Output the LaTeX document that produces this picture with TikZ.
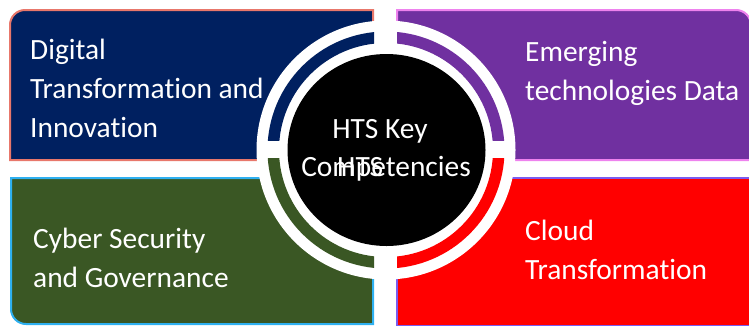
\documentclass[tikz,border=0pt]{standalone}
\usepackage{fontspec}
\setmainfont[Ligatures=NoCommon]{Carlito}
\definecolor{navyfill}{HTML}{002060}
\definecolor{navyedge}{HTML}{E8776B}
\definecolor{greenfill}{HTML}{3A5724}
\definecolor{greenedge}{HTML}{2EB0F0}
\definecolor{purplefill}{HTML}{7030A0}
\definecolor{purpleedge}{HTML}{EE82EE}
\definecolor{redfill}{HTML}{FF0000}
\definecolor{rededge}{HTML}{7B5CF0}
\tikzset{
  boxtext/.style={text=white, font=\fontsize{29.4pt}{39pt}\selectfont, align=left, anchor=base west, inner sep=0pt},
  centertext/.style={text=white, font=\fontsize{29.4pt}{39pt}\selectfont, anchor=base, inner sep=0pt},
  panel/.style={line width=2pt}
}
\begin{document}
\begin{tikzpicture}[x=1pt,y=-1pt]
\useasboundingbox (0,0) rectangle (749,325);
% panels
\filldraw[panel, fill=navyfill, draw=navyedge]
  (373,160) -- (10,160) [rounded corners=15pt] -- (10,10) [sharp corners] -- (373,10) -- cycle;
\filldraw[panel, fill=greenfill, draw=greenedge]
  (373,178) -- (11,178) [rounded corners=15pt] -- (11,324) [sharp corners] -- (373,324) -- cycle;
\filldraw[panel, fill=purplefill, draw=purpleedge]
  (397,160) -- (397,10) [rounded corners=15pt] -- (751,10) [sharp corners] -- (751,160) -- cycle;
\filldraw[panel, fill=redfill, draw=rededge]
  (397,326) -- (397,178) -- (751,178) -- (751,326) -- cycle;
% white disc
\fill[white] (386,150) circle (129.5pt);
% coloured quarter rings
\begin{scope}
  \clip (0,0) rectangle (374,140);
  \fill[navyfill, even odd rule] (386,150) circle (118.5pt) (386,150) circle (107pt);
\end{scope}
\begin{scope}
  \clip (397,0) rectangle (749,140);
  \fill[purplefill, even odd rule] (386,150) circle (118.5pt) (386,150) circle (107pt);
\end{scope}
\begin{scope}
  \clip (0,158) rectangle (374,325);
  \fill[greenfill, even odd rule] (386,150) circle (118.5pt) (386,150) circle (107pt);
\end{scope}
\begin{scope}
  \clip (397,158) rectangle (749,325);
  \fill[redfill, even odd rule] (386,150) circle (118.5pt) (386,150) circle (107pt);
\end{scope}
% black disc
\fill[black] (386.5,150) ellipse [x radius=99pt, y radius=96pt];
% texts (base anchor = baseline of last line)
\node[boxtext] (dti) at (30,137) {Digital\\Transformation and\\Innovation};
\node[boxtext] (etd) at (525,100) {Emerging\\technologies Data};
\node[boxtext] (csg) at (33,287) {Cyber Security\\and Governance};
\node[boxtext] (ct) at (525,279) {Cloud\\Transformation};
\node[centertext] (hk) at (380,138) {HTS Key};
\node[centertext] (comp) at (386,176) {Competencies};
\node[centertext, anchor=base west] (hts) at (337,176) {HTS};
\end{tikzpicture}
\end{document}
